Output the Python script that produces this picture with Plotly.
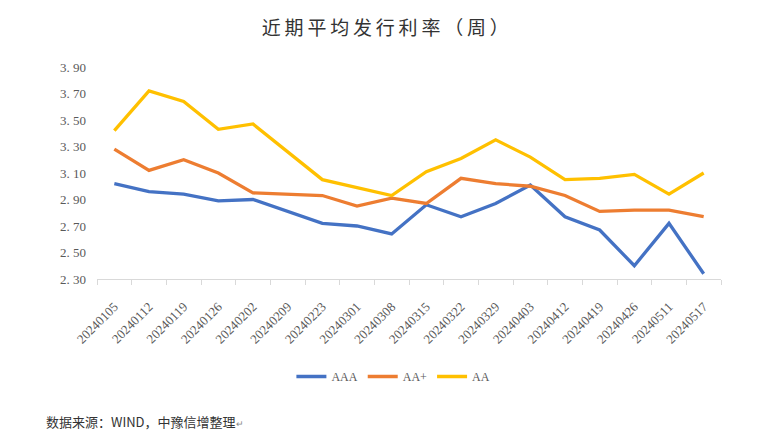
import plotly.graph_objects as go

dates = ["20240105", "20240112", "20240119", "20240126", "20240202", "20240209",
         "20240223", "20240301", "20240308", "20240315", "20240322", "20240329",
         "20240403", "20240412", "20240419", "20240426", "20240511", "20240517"]
aaa = [3.02, 2.96, 2.94, 2.89, 2.90, 2.81, 2.72, 2.70, 2.64, 2.86, 2.77, 2.87,
       3.01, 2.77, 2.67, 2.40, 2.72, 2.34]
aa_plus = [3.28, 3.12, 3.20, 3.10, 2.95, 2.94, 2.93, 2.85, 2.91, 2.87, 3.06, 3.02,
           3.00, 2.93, 2.81, 2.82, 2.82, 2.77]
aa = [3.42, 3.72, 3.64, 3.43, 3.47, 3.26, 3.05, 2.99, 2.93, 3.11, 3.21, 3.35,
      3.22, 3.05, 3.06, 3.09, 2.94, 3.10]
y_ticks = [2.30, 2.50, 2.70, 2.90, 3.10, 3.30, 3.50, 3.70, 3.90]
title_text = "近期平均发行利率（周）"
source_text = "数据来源：WIND，中豫信增整理"

series = [("AAA", aaa, "#4472C4"), ("AA+", aa_plus, "#ED7D31"), ("AA", aa, "#FFC000")]

fig = go.Figure()
for name, vals, color in series:
    fig.add_trace(go.Scatter(x=dates, y=vals, name=name, mode="lines",
                             line=dict(color=color, width=3.3)))

serif = "Liberation Serif, DejaVu Serif, serif"
fig.update_layout(
    width=760, height=444,
    margin=dict(l=97, r=39, t=67, b=165),
    paper_bgcolor="white", plot_bgcolor="white",
    title=dict(text="\u2009".join(title_text), x=0.507, xanchor="center", y=0.937, yanchor="middle",
               font=dict(family="Noto Sans CJK SC", size=19, color="#333333")),
    showlegend=True,
    legend=dict(orientation="h", x=0.475, xanchor="center", y=-0.46, yanchor="middle",
                font=dict(family=serif, size=12, color="#595959"), itemwidth=30,
                tracegroupgap=0),
    xaxis=dict(type="category", range=[-0.5, len(dates) - 0.5], tickangle=-45,
               showgrid=False, showline=True, automargin=False,
               linecolor="#D9D9D9", linewidth=1, ticks="outside", tickson="boundaries",
               tickcolor="#D9D9D9", ticklen=5, ticklabelstandoff=14,
               tickfont=dict(family=serif, size=13, color="#595959")),
    yaxis=dict(range=[2.30, 3.90], tickvals=y_ticks, automargin=False,
               ticktext=[f"{v:.2f}".replace(".", ". ") for v in y_ticks],
               ticklabelstandoff=10,
               showgrid=False, zeroline=False, showline=False,
               tickfont=dict(family=serif, size=13, color="#595959")),
    annotations=[dict(text=source_text + "<span style='font-size:9px;color:#888'>↵</span>",
                      xref="paper", yref="paper",
                      x=-0.085, y=-0.67, xanchor="left", yanchor="middle", showarrow=False,
                      font=dict(family="Noto Sans CJK SC", size=13, color="#333333"))],
)

fig.write_html("out.html", config={"displayModeBar": False},
               post_script="document.body.style.margin='0';")
